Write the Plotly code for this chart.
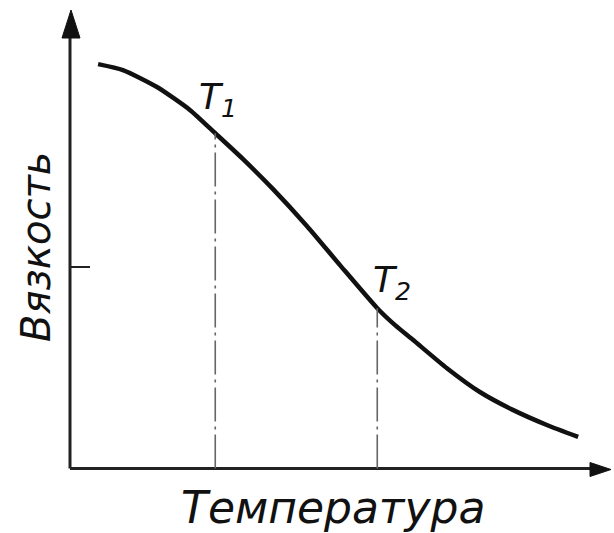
import plotly.graph_objects as go

# Viscosity vs. temperature (schematic, arbitrary units)
temperature = [0.52, 0.98, 1.61, 2.22, 2.69, 3.20, 3.76, 4.39, 5.00, 5.69, 6.02, 6.35, 6.98, 7.59, 8.20, 8.83, 9.41]
viscosity = [8.83, 8.70, 8.33, 7.83, 7.32, 6.76, 6.10, 5.29, 4.44, 3.50, 3.13, 2.81, 2.19, 1.67, 1.28, 0.95, 0.69]

# Marked temperatures and the viscosity reached at each
marker_names = ["<i>T<sub>1</sub></i>", "<i>T<sub>2</sub></i>"]
marker_temps = [2.69, 5.69]
marker_visc = [7.32, 3.50]

# Single reference tick on the viscosity axis
visc_tick = [4.40]

# Canvas geometry: origin position and scale (pixels per unit)
W, H = 614, 533
X0, Y0 = 70, 468.5
SX, SY = 54.0, 45.8

def ux(px):
    return (px - X0) / SX

def uy(py):
    return (Y0 - py) / SY

FONT = "DejaVu Sans"
INK = "#111111"

fig = go.Figure()

fig.add_trace(go.Scatter(
    x=temperature, y=viscosity, mode="lines",
    line=dict(color=INK, width=4.5, shape="spline", smoothing=0.6),
    hoverinfo="skip", showlegend=False,
))

shapes = []
# axes
shapes.append(dict(type="line", x0=0, y0=0, x1=0, y1=uy(36), line=dict(color="#222", width=3)))
shapes.append(dict(type="line", x0=0, y0=0, x1=ux(594), y1=0, line=dict(color="#222", width=3)))
# arrow heads
shapes.append(dict(type="path",
                   path=f"M {ux(71)},{uy(10)} L {ux(62)},{uy(38)} L {ux(80)},{uy(38)} Z",
                   fillcolor="#111", line=dict(color="#111", width=1)))
shapes.append(dict(type="path",
                   path=f"M {ux(611)},{uy(469.5)} L {ux(590)},{uy(462.5)} L {ux(590)},{uy(476.5)} Z",
                   fillcolor="#111", line=dict(color="#111", width=1)))
# tick on the viscosity axis
for v in visc_tick:
    shapes.append(dict(type="line", x0=0, y0=v, x1=ux(90), y1=v, line=dict(color="#222", width=2)))
# dash-dot drop lines from the curve to the temperature axis
for t, v in zip(marker_temps, marker_visc):
    shapes.append(dict(type="line", x0=t, y0=0, x1=t, y1=v,
                       line=dict(color="#666", width=1.6, dash="34px,5px,3px,5px")))

annotations = []
label_offsets = [(218, 99), (392, 282)]
for name, (px, py) in zip(marker_names, label_offsets):
    annotations.append(dict(x=ux(px), y=uy(py), text=name, showarrow=False,
                            font=dict(family=FONT, size=36, color=INK),
                            xanchor="center", yanchor="middle"))
annotations.append(dict(x=ux(36), y=uy(247), text="<i>Вязкость</i>", textangle=-90, showarrow=False,
                        font=dict(family=FONT, size=40, color=INK),
                        xanchor="center", yanchor="middle"))
annotations.append(dict(x=ux(333), y=uy(507), text="<i>Температура</i>", showarrow=False,
                        font=dict(family=FONT, size=44, color=INK),
                        xanchor="center", yanchor="middle"))

fig.update_layout(
    width=W, height=H,
    margin=dict(l=0, r=0, t=0, b=0),
    paper_bgcolor="white", plot_bgcolor="white",
    shapes=shapes, annotations=annotations,
    xaxis=dict(range=[ux(0), ux(W)], visible=False, fixedrange=True),
    yaxis=dict(range=[uy(H), uy(0)], visible=False, fixedrange=True),
    showlegend=False,
)

fig.write_html("out.html")
